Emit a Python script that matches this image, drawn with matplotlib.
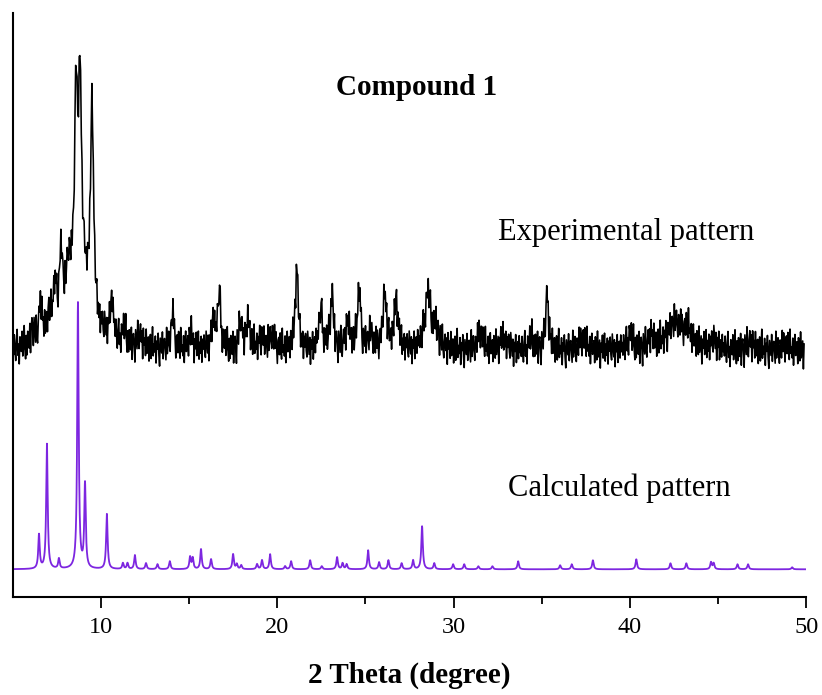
"""PXRD: experimentelles vs. berechnetes Muster fuer Compound 1."""
import numpy as np
import matplotlib
matplotlib.use("Agg")
import matplotlib.pyplot as plt

plt.rcParams["font.family"] = ["Liberation Serif", "DejaVu Serif"]

# --- berechnetes Muster: Reflexlagen (2theta) und Intensitaeten ---
calc_pos = [6.48, 6.93, 7.61, 8.69, 9.09, 10.33, 11.24, 11.5, 11.92, 12.55,
            13.2, 13.9, 15.05, 15.2, 15.67, 16.24, 17.49, 17.7, 17.95, 18.85,
            19.13, 19.59, 20.44, 20.78, 21.86, 22.52, 23.39, 23.7, 23.93, 25.15,
            25.77, 26.3, 27.05, 27.7, 28.21, 28.9, 29.97, 30.6, 31.4, 32.2,
            33.66, 36.04, 36.7, 37.9, 40.36, 42.3, 43.2, 44.6, 44.75, 46.1,
            46.7, 49.2]
calc_int = [34, 125, 10, 266, 84, 55, 6, 6, 14, 6,
            5, 8, 12, 11, 20, 10, 15, 5, 4, 5,
            9, 15, 3, 8, 9, 3, 12, 6, 5, 19,
            7, 9, 6, 9, 43, 6, 5, 5, 3, 3,
            8, 4, 5, 9, 10, 6, 6, 7, 6, 5,
            5, 2]
calc_base = 28

# --- experimentelles Muster: Reflexe (Lage, Hoehe, Halbwertsbreite/2) ---
exp_pos = [6.12, 6.57, 7.05, 7.38, 7.73, 8.15, 8.58, 8.81, 8.8, 9.49,
           10.6, 11.3, 12.2, 14.06, 15.1, 16.36, 16.7, 17.92, 18.35, 19.1,
           19.7, 21.1, 22.46, 23.1, 24.0, 24.64, 25.3, 26.1, 26.74, 28.53,
           29.0, 31.5, 32.8, 34.4, 35.3, 37.3, 40.0, 41.2, 42.6, 43.3,
           44.8, 46.8, 48.8]
exp_int = [18, 40, 20, 45, 70, 45, 184, 192, 70, 216,
           40, 15, 12, 35, 15, 30, 58, 30, 28, 12,
           15, 82, 40, 55, 25, 62, 15, 55, 50, 55,
           20, 20, 12, 12, 55, 12, 15, 12, 28, 12,
           8, 8, 6]
exp_hw = [0.1, 0.1, 0.15, 0.12, 0.12, 0.15, 0.1, 0.1, 0.7, 0.1,
          0.12, 0.15, 0.15, 0.1, 0.12, 0.1, 0.1, 0.1, 0.12, 0.15,
          0.15, 0.1, 0.12, 0.1, 0.15, 0.1, 0.15, 0.12, 0.12, 0.2,
          0.2, 0.15, 0.2, 0.15, 0.1, 0.2, 0.15, 0.15, 0.6, 0.2,
          0.2, 0.2, 0.2]
exp_base = 247
# Rauschen, von Hand abgeschaetzt
exp_noise = [5, -8, 12, -3, -14, 6, 17, -9, 2, -18, 9, 3, -6, 14, -11, -2, 19,
             -5, -15, 8, -12, 11, 0, -8, 15, -17, 5, 9, -3, -20, 12, 2, -9, 18,
             -6, -14, 3, 11, -5, 8, -18, 14, -2, 6, -11, 16, -8, -3, 9, -15, 5,
             12, -12, 0, 20, -9, 3, -5, 11, -16, 6, -2, 14, -8, -19, 9, 2, -6,
             15, -12, 5, 8, -3, -14, 18, -9, 0, 11, -5, -15, 8, 3, -11, 16, -6,
             12, -2, -18, 6, 9, -8, 14, -3, -12, 19, -5, 2, -9, 11, -16, 5, 15,
             -6, -2, 8, -14, 12, 3, -11, 18, -8, 0, 9, -19, 6, -3, 14, -9, 2,
             16, -12, 5, -6, 11, -15, 8, -2, 12, -5, -11, 15, 3, -8, 9, -18, 6,
             -3, 14, -14, 0, 7, -10, 13, -4]

x_ticks = [10, 20, 30, 40, 50]


def lorentz_sum(tt, pos, hts, hws):
    y = np.zeros_like(tt)
    for p, h, w in zip(pos, hts, hws):
        y += h / (1 + ((tt - p) / w) ** 2)
    return y


tt_calc = np.arange(5.0, 50.0001, 0.01)
y_calc = calc_base + lorentz_sum(tt_calc, calc_pos, calc_int, [0.05] * len(calc_pos))

tt_exp = np.arange(5.0, 49.9001, 0.04)
y_exp = exp_base + lorentz_sum(tt_exp, exp_pos, exp_int, exp_hw) \
    + np.resize(np.array(exp_noise, dtype=float), tt_exp.size)

fig = plt.figure(figsize=(8.22, 6.95), dpi=100)
ax = fig.add_axes([0.0157, 0.1406, 0.9651, 0.8411])

ax.plot(tt_exp, y_exp, color="black", lw=1.15)
ax.plot(tt_calc, y_calc, color="#7D26E0", lw=1.3)

ax.set_xlim(5, 50)
ax.set_ylim(0, 585)
ax.set_xticks(x_ticks)
ax.set_xticks([15, 25, 35, 45], minor=True)
ax.set_yticks([])
ax.tick_params(axis="x", which="major", length=8, width=1.3, labelsize=17.5, pad=6)
ax.tick_params(axis="x", which="minor", length=5, width=1.3)
for s in ("top", "right"):
    ax.spines[s].set_visible(False)
for s in ("left", "bottom"):
    ax.spines[s].set_linewidth(1.5)

ax.set_xlabel("2 Theta (degree)", fontsize=21, fontweight="bold", labelpad=17)

ax.text(27.92, 503, "Compound 1", fontsize=21, fontweight="bold", ha="center", va="baseline")
ax.text(32.52, 358, "Experimental pattern", fontsize=22, ha="left", va="baseline")
ax.text(33.08, 101, "Calculated pattern", fontsize=22, ha="left", va="baseline")

plt.savefig("out.png", dpi=100)
